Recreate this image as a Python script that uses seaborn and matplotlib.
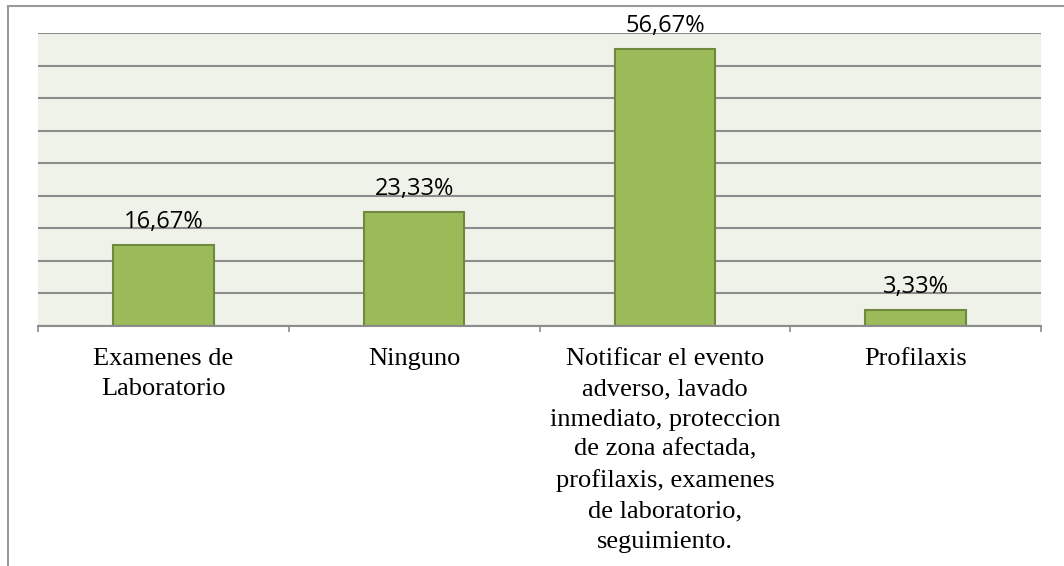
import matplotlib
matplotlib.use("Agg")
import matplotlib.pyplot as plt
import seaborn as sns
from matplotlib.lines import Line2D

categories = [
    "Examenes de\nLaboratorio",
    "Ninguno",
    "Notificar el evento\nadverso, lavado\ninmediato, proteccion\nde zona afectada,\nprofilaxis, examenes\nde laboratorio,\nseguimiento.",
    "Profilaxis",
]
counts = [5, 7, 17, 1]
total = 30
y_max = 18
y_step = 2

percent = [c / total * 100 for c in counts]
labels = [f"{p:.2f}%".replace(".", ",") for p in percent]

sns.set_theme(style="white")
plt.rcParams["font.family"] = ["Open Sans", "DejaVu Sans"]

W, H = 1064, 566
fig = plt.figure(figsize=(W / 100, H / 100), dpi=100)
ax = fig.add_axes([38 / W, (H - 326) / H, (1041 - 38) / W, (326 - 33) / H])
ax.set_facecolor("#EFF2E9")

sns.barplot(x=list(range(len(counts))), y=counts, color="#9BBB59",
            edgecolor="#71893F", linewidth=1.5, width=0.4, saturation=1, ax=ax)

ax.set_xlim(-0.5, len(counts) - 0.5)
ax.set_ylim(0, y_max)
ax.set_yticks(range(0, y_max + 1, y_step))
ax.yaxis.grid(True, color="#8C8C8C", linewidth=1.5)
ax.set_axisbelow(True)
ax.tick_params(axis="y", left=False, labelleft=False)

ax.set_xticks(range(len(counts)))
ax.set_xticklabels(categories, fontfamily="Liberation Serif", fontsize=19,
                   linespacing=1.48, color="#000000")
ax.tick_params(axis="x", which="major", bottom=False, length=0, pad=16)
ax.set_xticks([i - 0.5 for i in range(len(counts) + 1)], minor=True)
ax.tick_params(axis="x", which="minor", bottom=True, length=4.5, width=1.2,
               color="#8C8C8C", direction="out")
ax.set_xlabel("")
ax.set_ylabel("")

for s in ["top", "right", "left"]:
    ax.spines[s].set_visible(False)
ax.spines["bottom"].set_color("#8C8C8C")
ax.spines["bottom"].set_linewidth(1.5)

for i, (c, lab) in enumerate(zip(counts, labels)):
    ax.annotate(lab, (i, c), xytext=(0, 17), textcoords="offset pixels",
                ha="center", va="baseline", fontsize=17, color="#000000")

# outer frame
fig.add_artist(Line2D([8, W], [H - 6, H - 6], transform=None, color="#999999", linewidth=1.5))
fig.add_artist(Line2D([8, 8], [0, H - 6], transform=None, color="#999999", linewidth=1.5))

fig.savefig("out.png", dpi=100, facecolor="white")
